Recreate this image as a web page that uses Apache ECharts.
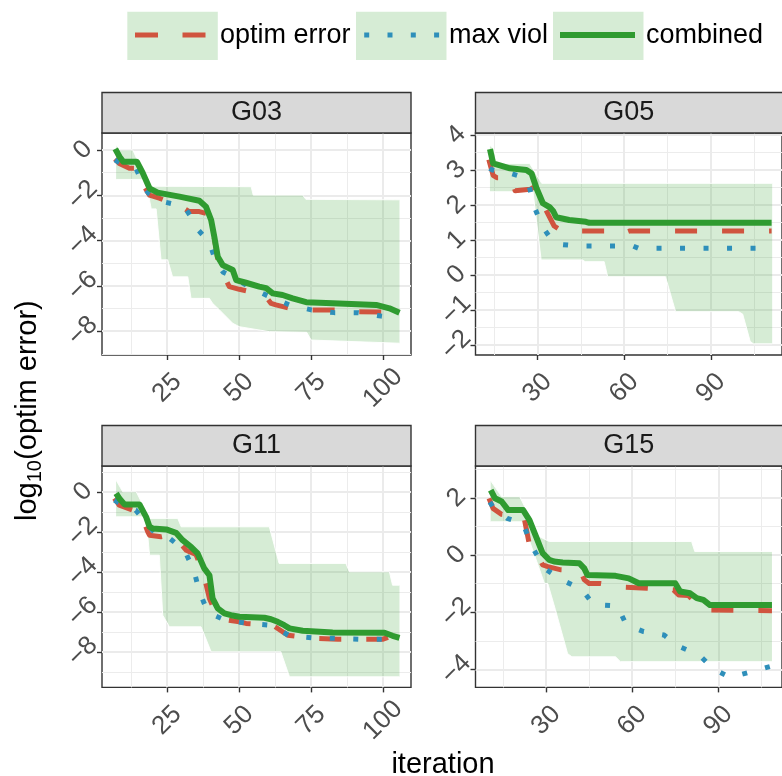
<!DOCTYPE html>
<html>
<head>
<meta charset="utf-8">
<script src="https://cdn.jsdelivr.net/npm/echarts@6/dist/echarts.min.js"></script>
<style>
html,body{margin:0;padding:0;background:#fff;}
#chart{width:782px;height:776px;}
</style>
</head>
<body>
<div id="chart"></div>
<script>
// ---------------- DATA ----------------
const panelNames = ['G03', 'G05', 'G11', 'G15'];
const seriesNames = ['optim error', 'max viol', 'combined'];

// G03
const g03Optim = [[6.9,-0.4],[8.4,-0.6],[11.9,-0.81],[14.8,-0.81],[17.1,-1.62],[18.9,-1.99],[22.3,-2.13],[29.9,-2.5],[32.7,-2.72],[36.2,-2.72],[38.5,-2.8],[40.3,-3.2],[41.4,-3.9],[42.6,-4.8],[44.9,-5.59],[46.6,-6.03],[50.1,-6.15],[58.8,-6.4],[61.1,-6.77],[62.8,-6.84],[68,-7.0],[70.1,-7.06],[86,-7.06],[87,-7.13],[100,-7.15],[103.3,-7.46],[105.7,-7.46]];
const g03Viol = [[6.9,-0.44],[9,-0.6],[14.3,-0.84],[17.1,-1.66],[18.5,-1.9],[23.5,-2.28],[31,-2.5],[33,-2.9],[35.1,-3.43],[39.7,-4.08],[42,-4.97],[44.5,-5.4],[47.8,-5.59],[53.6,-6.06],[60.5,-6.47],[67.5,-6.84],[75.1,-7.06],[83.1,-7.18],[91.2,-7.18],[99.3,-7.33],[105.7,-7.43]];
const g03Comb = [[7,0.05],[8.5,-0.3],[9.8,-0.52],[14.5,-0.52],[16.5,-1.0],[18.9,-1.69],[21.7,-1.88],[29.3,-2.06],[36.2,-2.24],[38.5,-2.5],[40.3,-3.09],[41.4,-3.83],[42.6,-4.71],[44.3,-5.08],[47.8,-5.3],[49,-5.74],[52.4,-5.86],[57,-6.03],[59.4,-6.1],[61.7,-6.33],[65.1,-6.4],[68.6,-6.55],[73.3,-6.72],[82.5,-6.77],[97.6,-6.84],[102.2,-6.99],[105.7,-7.18]];
const g03Upper = [[7.3,0.2],[8.6,0.0],[13.1,0.0],[18.3,-1.47],[19.5,-1.6],[54.2,-1.62],[54.9,-1.99],[72.1,-1.99],[73.2,-2.18],[105.7,-2.2]];
const g03Lower = [[7.3,-1.3],[17.5,-1.3],[19.5,-2.6],[21.2,-2.6],[22.9,-4.85],[25.2,-4.85],[26.9,-5.6],[32.2,-5.6],[33.3,-6.55],[39.7,-6.55],[40.8,-6.77],[43.2,-7.06],[47.8,-7.65],[50.1,-7.8],[60.5,-8.02],[73.5,-8.05],[75,-8.39],[105.7,-8.53]];

// G05
const g05Optim = [[13.2,3.3],[14.7,2.85],[16,2.78],[21,2.78],[22.3,2.41],[27.5,2.45],[28.5,2.5],[31,2.0],[33,1.85],[35.8,1.4],[38.5,1.26],[59,1.26],[60,1.2],[62,1.26],[111,1.26]];
const g05Viol = [[13.5,3.05],[14.5,3.0],[21,2.9],[25,2.8],[27,2.6],[28.8,1.97],[31.9,1.36],[35,1.0],[37,0.88],[44,0.83],[63,0.83],[65,0.76],[111,0.76]];
const g05Comb = [[13.6,3.6],[14.7,3.19],[20.5,3.05],[26.2,3.0],[28,2.9],[29.7,2.48],[31.9,2.05],[34.2,1.94],[35.5,1.82],[36.5,1.65],[41,1.57],[46.8,1.52],[48,1.49],[111,1.49]];
const g05Upper = [[13.6,3.7],[15,3.6],[15.9,3.19],[27.3,3.19],[31.5,2.62],[111.2,2.62]];
const g05Lower = [[13.6,2.38],[28.5,2.38],[31.3,0.43],[45.6,0.43],[46.5,0.38],[53.1,0.38],[54.3,-0.05],[74.3,-0.05],[77.8,-1.05],[99.6,-1.05],[101,-1.12],[103.6,-1.9],[104.7,-1.97],[111.2,-1.97]];

// G11
const g11Optim = [[6.7,-0.33],[8.4,-0.67],[13.1,-0.92],[15.4,-0.92],[17.5,-1.7],[18.3,-2.0],[18.9,-2.17],[22.9,-2.25],[25.8,-2.17],[28,-2.3],[31.6,-2.92],[35,-3.13],[37.5,-4.0],[39.7,-5.33],[42,-6.1],[44.3,-6.37],[50.1,-6.5],[52.4,-6.58],[61.7,-6.67],[66.9,-7.17],[75.6,-7.33],[84.3,-7.37],[100,-7.37],[102.2,-7.25],[105.7,-7.3]];
const g11Viol = [[6.7,-0.42],[10,-0.7],[14.1,-0.92],[18.9,-1.75],[21,-2.1],[25.2,-2.25],[31,-2.92],[34.2,-3.88],[36.2,-4.97],[39.2,-6.05],[45.3,-6.42],[53.1,-6.58],[61.1,-6.67],[67.5,-7.2],[75.6,-7.3],[84,-7.33],[92.4,-7.38],[100.3,-7.37],[105.7,-7.3]];
const g11Comb = [[7.3,-0.08],[8.5,-0.35],[10.2,-0.63],[15.4,-0.63],[17.7,-1.25],[18.9,-1.75],[20,-1.83],[24.7,-1.88],[28.1,-2.05],[30.4,-2.42],[33.3,-2.75],[35.6,-3.08],[37.9,-3.83],[39.7,-4.17],[40.8,-5.33],[42.6,-5.83],[44.9,-6.08],[47.2,-6.17],[50.1,-6.25],[58.8,-6.3],[61.1,-6.37],[63.4,-6.5],[65.7,-6.67],[67.5,-6.83],[72.1,-6.95],[82.5,-7.03],[100.5,-7.05],[103.3,-7.2],[105.7,-7.3]];
const g11Upper = [[7.3,0.58],[9.6,0.0],[14.3,0.0],[18.9,-1.33],[28.7,-1.33],[29.9,-1.75],[60.5,-1.75],[63.9,-3.58],[87.1,-3.58],[88.3,-4.0],[102.2,-4.0],[103.3,-4.67],[105.7,-4.67]];
const g11Lower = [[7.3,-1.25],[17.7,-1.25],[18.9,-3.17],[22.3,-3.17],[23.5,-6.17],[25.8,-6.75],[36.8,-6.75],[40.3,-8.0],[64.5,-8.0],[67.5,-9.25],[105.7,-9.25]];

// G15
const g15Optim = [[10.1,1.98],[11.5,1.63],[14.5,1.42],[16.5,1.4],[22,1.35],[22.5,1.22],[24.2,0.35],[26.5,0.1],[28.8,-0.35],[30.6,-0.41],[35.2,-0.52],[42,-0.55],[43.3,-0.87],[45,-1.0],[49,-1.0],[57.6,-1.13],[65.1,-1.16],[74.4,-1.22],[76.2,-1.4],[79.6,-1.42],[84.2,-1.92],[108.7,-1.95]];
const g15Viol = [[10.4,1.85],[12,1.6],[16.4,1.28],[22,1.1],[24.8,0.35],[29.4,-0.47],[35.4,-0.87],[42.3,-1.19],[46.5,-1.73],[54.8,-1.78],[57.9,-2.43],[64,-2.68],[71.1,-2.8],[76.3,-3.2],[83.4,-3.5],[88.3,-3.99],[94.1,-4.28],[100.5,-4.11],[108.7,-3.88]];
const g15Comb = [[10.7,2.27],[12.2,1.98],[14.5,1.87],[16.8,1.57],[22,1.57],[24.2,1.22],[26.5,0.64],[28.8,0.06],[31.1,-0.17],[32.8,-0.23],[35.8,-0.26],[41.6,-0.29],[43.3,-0.47],[44.4,-0.7],[54.2,-0.73],[58.8,-0.82],[62.3,-0.99],[75,-0.99],[76.7,-1.28],[80.2,-1.34],[82.5,-1.51],[84.8,-1.57],[87.1,-1.75],[108.7,-1.75]];
const g15Upper = [[10.7,2.59],[14.5,2.04],[20.8,2.04],[27.7,0.64],[31.1,0.47],[80.7,0.47],[81.8,0.12],[108.7,0.12]];
const g15Lower = [[10.7,1.16],[21.9,1.16],[29.4,-0.99],[30.6,-1.0],[33.2,-1.9],[37.5,-3.45],[39,-3.56],[54.2,-3.56],[55.9,-3.73],[108.7,-3.73]];

// tick labels
const xTicksLeft = [25, 50, 75, 100];
const xMinorLeft = [12.5, 37.5, 62.5, 87.5];
const xTicksRight = [30, 60, 90];
const xMinorRight = [15, 45, 75, 105];
const yTicksG03 = [-8, -6, -4, -2, 0];
const yMinorG03 = [-9, -7, -5, -3, -1];
const yTicksG05 = [-2, -1, 0, 1, 2, 3, 4];
const yMinorG05 = [-1.5, -0.5, 0.5, 1.5, 2.5, 3.5];
const yTicksG11 = [-8, -6, -4, -2, 0];
const yMinorG11 = [-9, -7, -5, -3, -1, 1];
const yTicksG15 = [-4, -2, 0, 2];
const yMinorG15 = [-3, -1, 1, 3];

// axis limits (panel extents)
const xLimG03 = [2.4, 109.7], yLimG03 = [-9.05, 0.75];
const xLimG05 = [8.6, 114.6], yLimG05 = [-2.29, 4.06];
const xLimG11 = [2.4, 109.7], yLimG11 = [-9.78, 1.29];
const xLimG15 = [5.4, 112.2], yLimG15 = [-4.63, 3.11];

// ---------------- STYLE / LAYOUT ----------------
const FONT = '"Liberation Sans", Arial, Helvetica, sans-serif';
const COL_RED = '#d0543f';
const COL_BLUE = '#2e8fba';
const COL_GREEN = '#2f9b30';
const RIBBON = 'rgba(51,160,44,0.2)';
const TICK_FONT = 26;

const panels = [
  {name: panelNames[0], box: {left: 102, top: 133, width: 309, height: 222}, xLim: xLimG03, yLim: yLimG03, xT: xTicksLeft, xM: xMinorLeft, yT: yTicksG03, yM: yMinorG03, optim: g03Optim, viol: g03Viol, comb: g03Comb, up: g03Upper, lo: g03Lower},
  {name: panelNames[1], box: {left: 475.5, top: 133, width: 308.5, height: 222}, xLim: xLimG05, yLim: yLimG05, xT: xTicksRight, xM: xMinorRight, yT: yTicksG05, yM: yMinorG05, optim: g05Optim, viol: g05Viol, comb: g05Comb, up: g05Upper, lo: g05Lower},
  {name: panelNames[2], box: {left: 102, top: 466, width: 309, height: 221.4}, xLim: xLimG11, yLim: yLimG11, xT: xTicksLeft, xM: xMinorLeft, yT: yTicksG11, yM: yMinorG11, optim: g11Optim, viol: g11Viol, comb: g11Comb, up: g11Upper, lo: g11Lower},
  {name: panelNames[3], box: {left: 475.5, top: 466, width: 308.5, height: 221.4}, xLim: xLimG15, yLim: yLimG15, xT: xTicksRight, xM: xMinorRight, yT: yTicksG15, yM: yMinorG15, optim: g15Optim, viol: g15Viol, comb: g15Comb, up: g15Upper, lo: g15Lower}
];

const grid = [], xAxis = [], yAxis = [], series = [], graphic = [];
const N = panels.length;
const fmt = v => String(v).replace('-', '\u2212');
const labelStyle = {formatter: fmt, rotate: 45, align: 'center', verticalAlign: 'middle',
  showMinLabel: true, showMaxLabel: true, hideOverlap: false,
  color: '#4d4d4d', fontSize: TICK_FONT, fontFamily: FONT};

panels.forEach((p, i) => {
  grid.push({left: p.box.left, top: p.box.top, width: p.box.width, height: p.box.height,
    show: true, backgroundColor: '#fff', borderColor: '#333', borderWidth: 1.4, containLabel: false});
});
// minor axes first (indices 0..N-1); the minor y axis also carries every other y label
panels.forEach((p, i) => {
  const oddLabels = p.yT.filter((v, k) => k % 2 === 1);
  xAxis.push({gridIndex: i, type: 'value', min: p.xLim[0], max: p.xLim[1], position: 'top',
    axisLine: {show: false, onZero: false}, axisLabel: {show: false},
    axisTick: {show: false, customValues: p.xM},
    splitLine: {show: true, lineStyle: {color: '#ececec', width: 1}}});
  yAxis.push({gridIndex: i, type: 'value', min: p.yLim[0], max: p.yLim[1], position: 'left',
    axisLine: {show: false, onZero: false},
    axisLabel: Object.assign({customValues: oddLabels, margin: 19}, labelStyle),
    axisTick: {show: false, customValues: p.yM},
    splitLine: {show: true, lineStyle: {color: '#ececec', width: 1}}});
});
// major axes (indices N..2N-1)
panels.forEach((p, i) => {
  const evenLabels = p.yT.filter((v, k) => k % 2 === 0);
  xAxis.push({gridIndex: i, type: 'value', min: p.xLim[0], max: p.xLim[1], position: 'bottom',
    axisLine: {show: false, onZero: false},
    axisTick: {show: true, length: 5, customValues: p.xT, lineStyle: {color: '#333', width: 1.4}},
    axisLabel: Object.assign({customValues: p.xT, margin: 33}, labelStyle),
    splitLine: {show: true, lineStyle: {color: '#ebebeb', width: 2}}});
  yAxis.push({gridIndex: i, type: 'value', min: p.yLim[0], max: p.yLim[1], position: 'left',
    axisLine: {show: false, onZero: false},
    axisTick: {show: true, length: 5, customValues: p.yT, lineStyle: {color: '#333', width: 1.4}},
    axisLabel: Object.assign({customValues: evenLabels, margin: 19}, labelStyle),
    splitLine: {show: true, lineStyle: {color: '#ebebeb', width: 2}}});
});

function ribbon(p, ai) {
  return {
    type: 'custom', name: p.name + ' band', xAxisIndex: ai, yAxisIndex: ai, z: 1, silent: true,
    data: p.up.concat(p.lo),
    renderItem: function (params, api) {
      if (params.dataIndex !== 0) return null;
      const up = p.up.map(d => api.coord(d));
      const lo = p.lo.map(d => api.coord(d));
      return {type: 'group', children: [
        {type: 'polygon', shape: {points: up.concat(lo.slice().reverse())}, style: {fill: RIBBON}},
        {type: 'polyline', shape: {points: up}, style: {stroke: 'rgba(255,255,255,0.9)', lineWidth: 1, fill: null}},
        {type: 'polyline', shape: {points: lo}, style: {stroke: 'rgba(255,255,255,0.9)', lineWidth: 1, fill: null}}
      ]};
    }
  };
}
function line(name, data, ai, color, width, dash, z) {
  return {type: 'line', name: name, data: data, xAxisIndex: ai, yAxisIndex: ai, z: z,
    symbol: 'none', showSymbol: false, silent: true, animation: false,
    lineStyle: {color: color, width: width, type: dash, cap: 'butt', join: 'round'}};
}

panels.forEach((p, i) => {
  const ai = N + i;
  series.push(ribbon(p, ai));
  series.push(line(seriesNames[0], p.optim, ai, COL_RED, 5, [22, 25], 2));
  series.push(line(seriesNames[1], p.viol, ai, COL_BLUE, 5, [5, 18.5], 3));
  series.push(line(seriesNames[2], p.comb, ai, COL_GREEN, 6, 'solid', 4));
  // strip
  graphic.push({type: 'rect', z: 10, shape: {x: p.box.left, y: p.box.top - 40.5, width: p.box.width, height: 40.5},
    style: {fill: '#d9d9d9', stroke: '#333', lineWidth: 1.4}});
  graphic.push({type: 'text', z: 11, x: p.box.left + (i % 2 === 1 ? 306.5 : p.box.width) / 2, y: p.box.top - 20,
    style: {text: p.name, fill: '#1a1a1a', fontSize: 27, fontFamily: FONT, align: 'center', verticalAlign: 'middle'}});
});

// legend (ggplot-like keys)
const legendKeys = [
  {x: 127.3, textX: 220, name: seriesNames[0]},
  {x: 356, textX: 449, name: seriesNames[1]},
  {x: 553, textX: 646, name: seriesNames[2]}
];
legendKeys.forEach((k, i) => {
  graphic.push({type: 'rect', shape: {x: k.x, y: 11.7, width: 90.5, height: 48.3}, style: {fill: RIBBON}});
  graphic.push({type: 'text', x: k.textX, y: 36, style: {text: k.name, fill: '#000', fontSize: 27, fontFamily: FONT, align: 'left', verticalAlign: 'middle'}});
});
graphic.push({type: 'line', shape: {x1: 135, y1: 35, x2: 206, y2: 35}, style: {stroke: COL_RED, lineWidth: 5, lineDash: [23, 24.5], lineCap: 'butt'}});
graphic.push({type: 'line', shape: {x1: 364.2, y1: 35, x2: 439.2, y2: 35}, style: {stroke: COL_BLUE, lineWidth: 5, lineDash: [5, 18.3], lineCap: 'butt'}});
graphic.push({type: 'line', shape: {x1: 560, y1: 35, x2: 635, y2: 35}, style: {stroke: COL_GREEN, lineWidth: 6, lineCap: 'butt'}});

// axis titles
graphic.push({type: 'text', x: 443, y: 765, style: {text: 'iteration', fill: '#000', fontSize: 29, fontFamily: FONT, align: 'center', verticalAlign: 'middle'}});
// y title: log10(optim error), drawn bottom-to-top with subscript
graphic.push({type: 'text', x: 28, y: 521, rotation: Math.PI / 2,
  style: {text: 'log', fill: '#000', fontSize: 29, fontFamily: FONT, align: 'left', verticalAlign: 'middle'}});
graphic.push({type: 'text', x: 35, y: 482.3, rotation: Math.PI / 2,
  style: {text: '10', fill: '#000', fontSize: 20, fontFamily: FONT, align: 'left', verticalAlign: 'middle'}});
graphic.push({type: 'text', x: 28, y: 459.8, rotation: Math.PI / 2,
  style: {text: '(optim error)', fill: '#000', fontSize: 29, fontFamily: FONT, align: 'left', verticalAlign: 'middle'}});

const chart = echarts.init(document.getElementById('chart'), null, {renderer: 'canvas'});
chart.setOption({
  backgroundColor: '#fff',
  animation: false,
  grid: grid, xAxis: xAxis, yAxis: yAxis, series: series, graphic: graphic
});
</script>
</body>
</html>
